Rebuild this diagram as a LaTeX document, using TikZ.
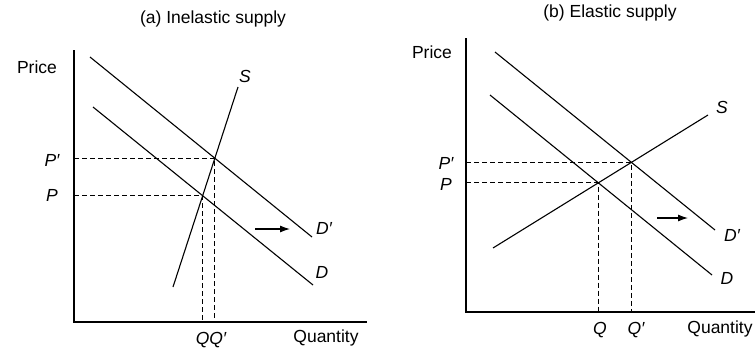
\documentclass[tikz,border=0pt]{standalone}
\usepackage{fontspec}
\setmainfont{Liberation Sans}
\usetikzlibrary{intersections,arrows.meta}
\begin{document}
\begin{tikzpicture}[x=1pt,y=-1pt,
  curve/.style={line width=1.1pt},
  axisline/.style={line width=1.2pt},
  guide/.style={line width=1pt, dash pattern=on 5pt off 3pt},
  shiftarrow/.style={line width=1.1pt,-{Latex[length=10pt,width=7pt]}},
  lbl/.style={font=\fontsize{17.5}{20}\selectfont, inner sep=0pt},
  ilbl/.style={font=\fontsize{17.5}{20}\selectfont\itshape, inner sep=0pt}]
\useasboundingbox (0,0) rectangle (755,348);

% ---------- Panel (a) ----------
\node[lbl] (atitle) at (213,19) {(a) Inelastic supply};
\coordinate (aTop) at (74,50);
\coordinate (aO) at (74,322);
\coordinate (aRight) at (367,322);
\draw[axisline] (aTop) -- (aO) -- (aRight);
\node[lbl] (aprice) at (37,67) {Price};
\node[lbl] (aqty) at (326,338) {Quantity};

\coordinate (aD2s) at (90,57);  \coordinate (aD2e) at (312,237);
\coordinate (aD1s) at (93,107); \coordinate (aD1e) at (313,285);
\coordinate (aSs) at (173,287); \coordinate (aSe) at (238,87);
\draw[curve, name path=aD2] (aD2s) -- (aD2e);
\draw[curve, name path=aD1] (aD1s) -- (aD1e);
\draw[curve, name path=aS] (aSs) -- (aSe);
\path[name intersections={of=aS and aD2, by=aE2}];
\path[name intersections={of=aS and aD1, by=aE1}];
\draw[guide] (aO |- aE2) -- (aE2) -- (aE2 |- aO);
\draw[guide] (aO |- aE1) -- (aE1) -- (aE1 |- aO);

\node[ilbl] (aSl) at (245,76) {S};
\node[ilbl] (aD2l) at (324,228) {D′};
\node[ilbl] (aD1l) at (322,272) {D};
\node[ilbl] (aP2l) at (52,160) {P′};
\node[ilbl] (aP1l) at (52,195) {P};
\node[ilbl] (aQl) at (211,340) {QQ′};
\coordinate (aArS) at (255,229);
\coordinate (aArE) at (290,229);
\draw[shiftarrow] (aArS) -- (aArE);

% ---------- Panel (b) ----------
\node[lbl] (btitle) at (610,13) {(b) Elastic supply};
\coordinate (bTop) at (466,38);
\coordinate (bO) at (466,312);
\coordinate (bRight) at (755,312);
\draw[axisline] (bTop) -- (bO) -- (bRight);
\node[lbl] (bprice) at (432,52) {Price};
\node[lbl] (bqty) at (720,329) {Quantity};

\coordinate (bD2s) at (495,52);  \coordinate (bD2e) at (715,230);
\coordinate (bD1s) at (490,95);  \coordinate (bD1e) at (712,275);
\coordinate (bSs) at (493,248);  \coordinate (bSe) at (708,115);
\draw[curve, name path=bD2] (bD2s) -- (bD2e);
\draw[curve, name path=bD1] (bD1s) -- (bD1e);
\draw[curve, name path=bS] (bSs) -- (bSe);
\path[name intersections={of=bS and bD2, by=bE2}];
\path[name intersections={of=bS and bD1, by=bE1}];
\draw[guide] (bO |- bE2) -- (bE2) -- (bE2 |- bO);
\draw[guide] (bO |- bE1) -- (bE1) -- (bE1 |- bO);

\node[ilbl] (bSl) at (722,107) {S};
\node[ilbl] (bD2l) at (732,235) {D′};
\node[ilbl] (bD1l) at (727,278) {D};
\node[ilbl] (bP2l) at (446,163) {P′};
\node[ilbl] (bP1l) at (446,184) {P};
\node[ilbl] (bQl) at (600,330) {Q};
\node[ilbl] (bQ2l) at (636,330) {Q′};
\coordinate (bArS) at (657,218);
\coordinate (bArE) at (688,218);
\draw[shiftarrow] (bArS) -- (bArE);
\end{tikzpicture}
\end{document}
